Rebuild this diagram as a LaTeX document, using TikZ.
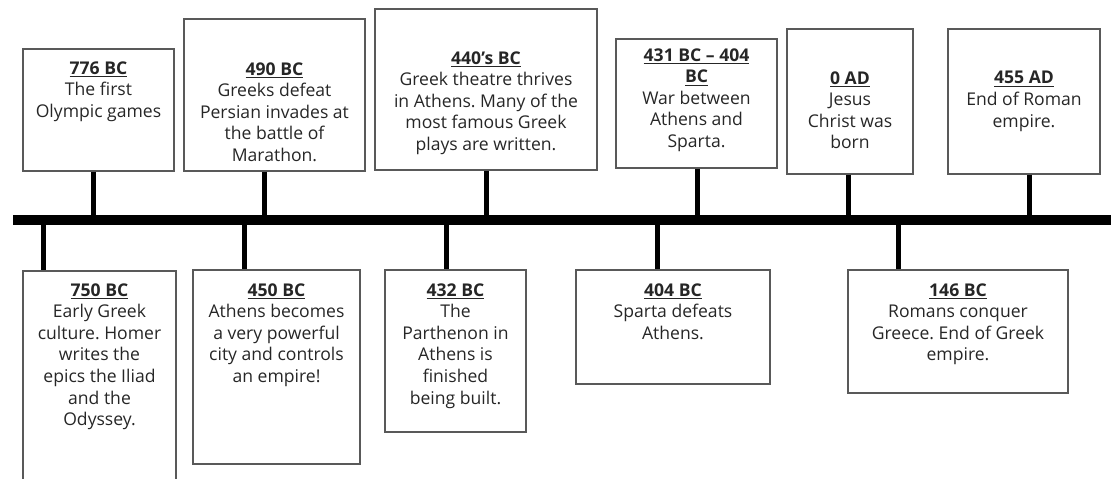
\documentclass[tikz,border=0pt]{standalone}
\usepackage{fontspec}
\setmainfont{Open Sans}
\usetikzlibrary{fit}
\frenchspacing

\begin{document}
\begin{tikzpicture}[
    x=0.02cm, y=-0.02cm,   % one unit = one pixel of the page
    card/.style = {draw=black!65, line width=0.8pt, inner sep=0pt},
    note/.style = {align=center, anchor=north, inner sep=0pt, text=black!85,
                   font=\fontsize{10}{12.3}\selectfont},
    stem/.style = {line width=0.1cm},
    bar/.style = {line width=0.2cm}
  ]
    \useasboundingbox (0,0) rectangle (1111,479);
    \clip (0,0) rectangle (1111,479);

    % the line itself
    \coordinate (start) at (13,220);
    \coordinate (end) at (1111,220);

    % events above the line
    \node[card, fit={(23,49) (174,171)}] (b776) {};
    \node[card, fit={(184,19) (365,171)}] (b490) {};
    \node[card, fit={(375,9) (597,170)}] (b440) {};
    \node[card, fit={(616,39) (777,168)}] (b431) {};
    \node[card, fit={(787,29) (913,174)}] (b0) {};
    \node[card, fit={(948,29) (1100,174)}] (b455) {};

    \node[note] (t776) at (b776.north |- 0,61) {\textbf{\underline{776 BC}}\\The first\\Olympic games};
    \node[note] (t490) at (b490.north |- 0,62) {\textbf{\underline{490 BC}}\\Greeks defeat\\Persian invades at\\the battle of\\Marathon.};
    \node[note] (t440) at (b440.north |- 0,51) {\textbf{\underline{440’s BC}}\\Greek theatre thrives\\in Athens. Many of the\\most famous Greek\\plays are written.};
    \node[note] (t431) at (b431.north |- 0,48) {\textbf{\underline{431 BC – 404}}\\\textbf{\underline{BC}}\\War between\\Athens and\\Sparta.};
    \node[note] (t0) at (b0.north |- 0,71) {\textbf{\underline{0 AD}}\\Jesus\\Christ was\\born};
    \node[note] (t455) at (b455.north |- 0,71) {\textbf{\underline{455 AD}}\\End of Roman\\empire.};

    % events below the line
    \node[card, fit={(23,271) (176,495)}] (b750) {};
    \node[card, fit={(193,270) (360,464)}] (b450) {};
    \node[card, fit={(385,270) (526,432)}] (b432) {};
    \node[card, fit={(576,270) (770,384)}] (b404) {};
    \node[card, fit={(848,270) (1068,393)}] (b146) {};

    \node[note] (t750) at (b750.north |- 0,283) {\textbf{\underline{750 BC}}\\Early Greek\\culture. Homer\\writes the\\epics the Iliad\\and the\\Odyssey.};
    \node[note] (t450) at (b450.north |- 0,283) {\textbf{\underline{450 BC}}\\Athens becomes\\a very powerful\\city and controls\\an empire!};
    \node[note] (t432) at (b432.north |- 0,283) {\textbf{\underline{432 BC}}\\The\\Parthenon in\\Athens is\\finished\\being built.};
    \node[note] (t404) at (b404.north |- 0,283) {\textbf{\underline{404 BC}}\\Sparta defeats\\Athens.};
    \node[note] (t146) at (b146.north |- 0,283) {\textbf{\underline{146 BC}}\\Romans conquer\\Greece. End of Greek\\empire.};

    % where the stems meet the line
    \coordinate (s776) at (93,220);
    \coordinate (s490) at (264,220);
    \coordinate (s440) at (486,220);
    \coordinate (s431) at (697,220);
    \coordinate (s0) at (848,220);
    \coordinate (s455) at (1029,220);
    \coordinate (s750) at (43,220);
    \coordinate (s450) at (244,220);
    \coordinate (s432) at (446,220);
    \coordinate (s404) at (657,220);
    \coordinate (s146) at (898,220);

    \draw[stem] (s776 |- b776.south) -- (s776);
    \draw[stem] (s490 |- b490.south) -- (s490);
    \draw[stem] (s440 |- b440.south) -- (s440);
    \draw[stem] (s431 |- b431.south) -- (s431);
    \draw[stem] (s0 |- b0.south) -- (s0);
    \draw[stem] (s455 |- b455.south) -- (s455);
    \draw[stem] (s750) -- (s750 |- b750.north);
    \draw[stem] (s450) -- (s450 |- b450.north);
    \draw[stem] (s432) -- (s432 |- b432.north);
    \draw[stem] (s404) -- (s404 |- b404.north);
    \draw[stem] (s146) -- (s146 |- b146.north);

    \draw[bar] (start) -- (end);
  \end{tikzpicture}
\end{document}
